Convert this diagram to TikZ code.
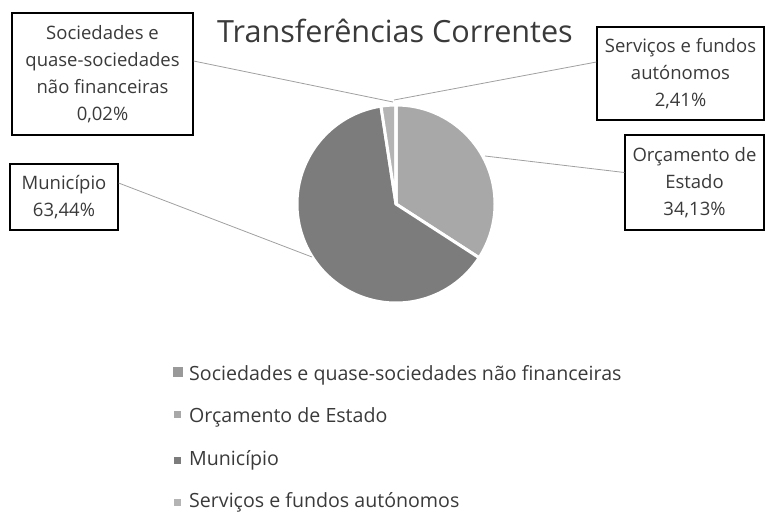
\documentclass[tikz,border=0pt]{standalone}
\usepackage{fontspec}
\setmainfont{Open Sans}
\usetikzlibrary{shapes}
\definecolor{OrcGray}{HTML}{A8A8A8}
\definecolor{MunGray}{HTML}{7C7C7C}
\definecolor{ServGray}{HTML}{B4B4B4}
\definecolor{SocGray}{HTML}{999999}
\definecolor{TextGray}{HTML}{3A3A3A}
\definecolor{LeadGray}{HTML}{A0A0A0}
\tikzstyle{LabelBox}=[rectangle, draw=black, line width=1.2pt, align=center, inner sep=0pt, font=\fontsize{18.5}{27}\selectfont, text=TextGray]
\tikzstyle{LeaderLine}=[draw=LeadGray, line width=0.8pt]
\tikzstyle{Slice}=[draw=white, line width=3pt, line join=round]
\tikzstyle{LegendMark}=[rectangle, inner sep=0pt, minimum size=7pt]
\tikzstyle{LegendText}=[anchor=base west, inner sep=0pt, font=\fontsize{19.6}{24}\selectfont, text=TextGray]

\begin{document}
\begin{tikzpicture}[x=1pt, y=-1pt]
\useasboundingbox (0,0) rectangle (765,512);

\node[font=\fontsize{30.6}{36}\selectfont, text=TextGray, anchor=base] (Title) at (395,42) {Transferências Correntes};

% pie, angles run clockwise on the page
\coordinate (PieC) at (396,204);
\filldraw[Slice, fill=OrcGray] (PieC) -- ++(-90:99) arc[start angle=-90, end angle=32.87, radius=99] -- cycle;
\filldraw[Slice, fill=MunGray] (PieC) -- ++(32.87:99) arc[start angle=32.87, end angle=261.26, radius=99] -- cycle;
\filldraw[Slice, fill=ServGray] (PieC) -- ++(261.26:99) arc[start angle=261.26, end angle=269.94, radius=99] -- cycle;
\filldraw[Slice, fill=SocGray] (PieC) -- ++(269.94:99) arc[start angle=269.94, end angle=270, radius=99] -- cycle;

\node[LabelBox, minimum width=181pt, minimum height=122pt](SocBox) at (102.5,74) {Sociedades e\\quase-sociedades\\não financeiras\\0,02\%};
\node[LabelBox, minimum width=108pt, minimum height=66pt](MunBox) at (64,197) {Município\\63,44\%};
\node[LabelBox, minimum width=167pt, minimum height=93pt](ServBox) at (680.5,73.5) {Serviços e fundos\\autónomos\\2,41\%};
\node[LabelBox, minimum width=139pt, minimum height=95pt](OrcBox) at (694.5,182.5) {Orçamento de\\Estado\\34,13\%};

\coordinate (SocTip) at (393,102);
\coordinate (ServTip) at (394,100);
\coordinate (MunTip) at (312,257);
\coordinate (OrcTip) at (485,156);

\draw[LeaderLine]([yshift=13pt]SocBox.east) -- (SocTip);
\draw[LeaderLine]([yshift=14pt]MunBox.east) -- (MunTip);
\draw[LeaderLine]([yshift=11.5pt]ServBox.west) -- (ServTip);
\draw[LeaderLine]([yshift=10pt]OrcBox.west) -- (OrcTip);

\node[LegendMark, fill=SocGray, minimum size=10pt](SocMark) at (177.5,372) {};
\node[LegendText](SocLeg) at (189,380) {Sociedades e quase-sociedades não financeiras};
\node[LegendMark, fill=OrcGray](OrcMark) at (177,414) {};
\node[LegendText](OrcLeg) at (189,422) {Orçamento de Estado};
\node[LegendMark, fill=MunGray](MunMark) at (177.5,460) {};
\node[LegendText](MunLeg) at (189,465) {Município};
\node[LegendMark, fill=ServGray](ServMark) at (177,502) {};
\node[LegendText](ServLeg) at (189,507) {Serviços e fundos autónomos};

\end{tikzpicture}
\end{document}
